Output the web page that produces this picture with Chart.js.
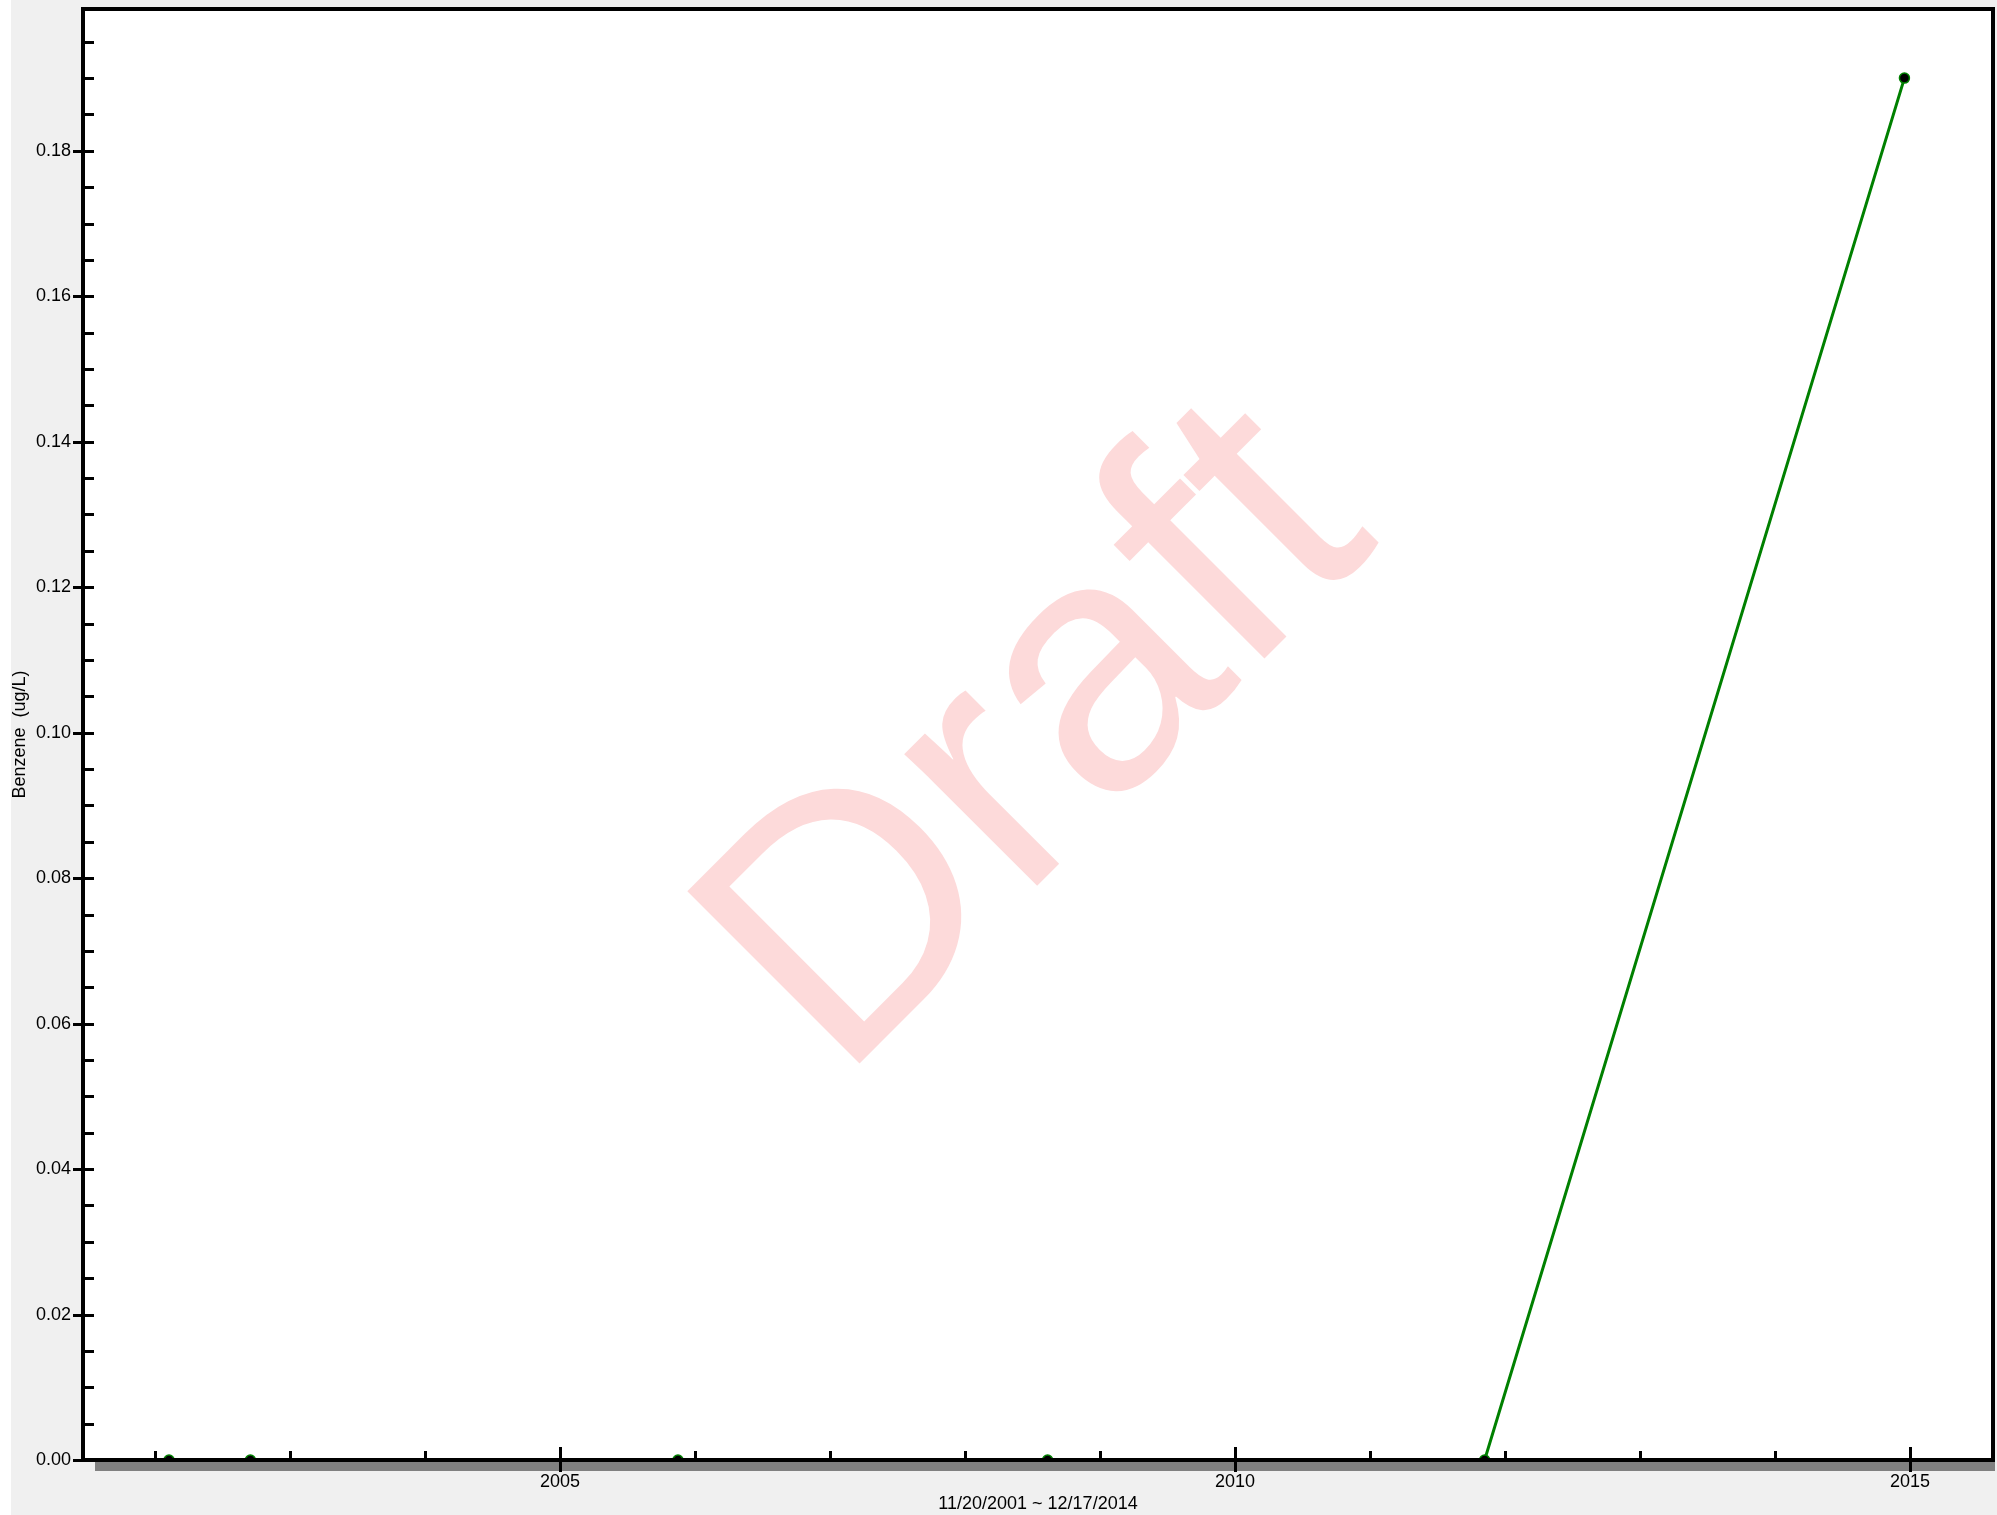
<!DOCTYPE html>
<html>
<head>
<meta charset="utf-8">
<script src="https://cdn.jsdelivr.net/npm/chart.js@4.4.1/dist/chart.umd.min.js"></script>
<style>
  html, body { margin: 0; padding: 0; background: #f0f0f0; }
  #wrap { width: 1997px; height: 1515px; }
</style>
</head>
<body>
<div id="wrap"><canvas id="benzene-chart" width="1997" height="1515"></canvas></div>
<script>
// sample dates and benzene results (ug/L)
const sampleDates = ['2002-02-08', '2002-09-16', '2005-11-16', '2008-08-12', '2011-11-07', '2014-12-17']
const benzeneValues = [0, 0, 0, 0, 0, 0.19]

// axis labels
const yTickValues = [0, 0.02, 0.04, 0.06, 0.08, 0.10, 0.12, 0.14, 0.16, 0.18]
const xTickYears = [2005, 2010, 2015]
const yAxisLabel = 'Benzene  (ug/L)'
const dateRangeLabel = '11/20/2001 ~ 12/17/2014'

const FONT = { family: '"Liberation Sans", Arial, sans-serif', size: 18 }

// 날짜 문자열 -> 소수 연도
function toDecimalYear(s) {
  const d = Date.parse(s + 'T00:00:00Z')
  const y = new Date(d).getUTCFullYear()
  const start = Date.UTC(y, 0, 1)
  const end = Date.UTC(y + 1, 0, 1)
  return y + (d - start) / (end - start)
}

// 배경, 워터마크, 축선/눈금을 직접 그림
const framePlugin = {
  id: 'frame',
  beforeDraw(chart) {
    const { ctx, chartArea: a, width, height } = chart
    ctx.save()
    ctx.fillStyle = '#f0f0f0'
    ctx.fillRect(0, 0, width, height)
    ctx.fillStyle = '#ffffff'
    ctx.fillRect(0, 0, 11, height)
    ctx.fillRect(a.left, a.top, a.right - a.left, a.bottom - a.top)
    ctx.restore()
  },
  beforeDatasetsDraw(chart) {
    const { ctx } = chart
    ctx.save()
    ctx.translate(839, 1084)
    ctx.rotate(-Math.PI / 4)
    ctx.font = '354px "Liberation Sans", Arial, sans-serif'
    ctx.fillStyle = '#fddada'
    ctx.textAlign = 'left'
    ctx.textBaseline = 'alphabetic'
    ctx.fillText('Draft', 0, 0)
    ctx.restore()
  },
  afterDatasetsDraw(chart) {
    const { ctx, chartArea: a, scales } = chart
    const xs = scales.x
    const ys = scales.y
    ctx.save()

    // 하단 회색 띠
    ctx.fillStyle = '#808080'
    ctx.fillRect(a.left + 12, a.bottom + 2, a.right - a.left - 10, 9)

    // 외곽 프레임
    ctx.strokeStyle = '#000'
    ctx.lineWidth = 4
    ctx.strokeRect(a.left, a.top, a.right - a.left, a.bottom - a.top)

    ctx.lineWidth = 3
    ctx.beginPath()
    // y 보조 눈금 (0.005 간격)
    for (let v = 0; v <= ys.max + 1e-9; v += 0.005) {
      const y = Math.round(ys.getPixelForValue(v)) + 0.5
      const major = yTickValues.some(t => Math.abs(t - v) < 1e-9)
      ctx.moveTo(major ? a.left - 10 : a.left, y)
      ctx.lineTo(a.left + 11, y)
    }
    // x 눈금 (연 단위)
    for (let yr = Math.ceil(xs.min); yr <= xs.max; yr++) {
      const x = Math.round(xs.getPixelForValue(yr)) + 0.5
      if (xTickYears.includes(yr)) {
        ctx.moveTo(x, a.bottom - 13)
        ctx.lineTo(x, a.bottom + 12)
      } else {
        ctx.moveTo(x, a.bottom - 9)
        ctx.lineTo(x, a.bottom)
      }
    }
    ctx.stroke()
    ctx.restore()
  }
}

new Chart(document.getElementById('benzene-chart'), {
  type: 'scatter',
  data: {
    datasets: [
      {
        label: yAxisLabel,
        data: sampleDates.map((d, i) => ({ x: toDecimalYear(d), y: benzeneValues[i] })),
        showLine: true,
        borderColor: '#008000',
        borderWidth: 3,
        pointRadius: 5,
        pointBackgroundColor: '#000000',
        pointBorderColor: '#008000',
        pointBorderWidth: 1.5,
        tension: 0,
        clip: false
      }
    ]
  },
  options: {
    responsive: false,
    animation: false,
    events: [],
    layout: { autoPadding: false, padding: { top: 9, right: 4, left: 0, bottom: 0 } },
    plugins: {
      legend: { display: false },
      tooltip: { enabled: false }
    },
    scales: {
      x: {
        type: 'linear',
        min: 2001.467,
        max: 2015.615,
        grid: { display: false, drawTicks: false },
        border: { display: false },
        afterBuildTicks: s => { s.ticks = xTickYears.map(v => ({ value: v })) },
        afterFit: s => { s.height = 55; s.paddingLeft = 0; s.paddingRight = 0 },
        ticks: {
          color: '#000',
          font: FONT,
          padding: 11,
          maxRotation: 0,
          autoSkip: false,
          callback: v => String(v)
        },
        title: {
          display: true,
          text: dateRangeLabel,
          color: '#000',
          font: FONT,
          padding: { top: 0, bottom: 0 }
        }
      },
      y: {
        min: 0,
        max: 0.1995,
        grid: { display: false, drawTicks: false },
        border: { display: false },
        afterBuildTicks: s => { s.ticks = yTickValues.map(v => ({ value: v })) },
        afterFit: s => { s.width = 83; s.paddingTop = 0; s.paddingBottom = 0 },
        ticks: {
          color: '#000',
          font: FONT,
          padding: 12,
          autoSkip: false,
          callback: v => v.toFixed(2)
        },
        title: {
          display: true,
          text: yAxisLabel,
          color: '#000',
          font: FONT,
          padding: { top: 9, bottom: 0 }
        }
      }
    }
  },
  plugins: [framePlugin]
})
</script>
</body>
</html>
